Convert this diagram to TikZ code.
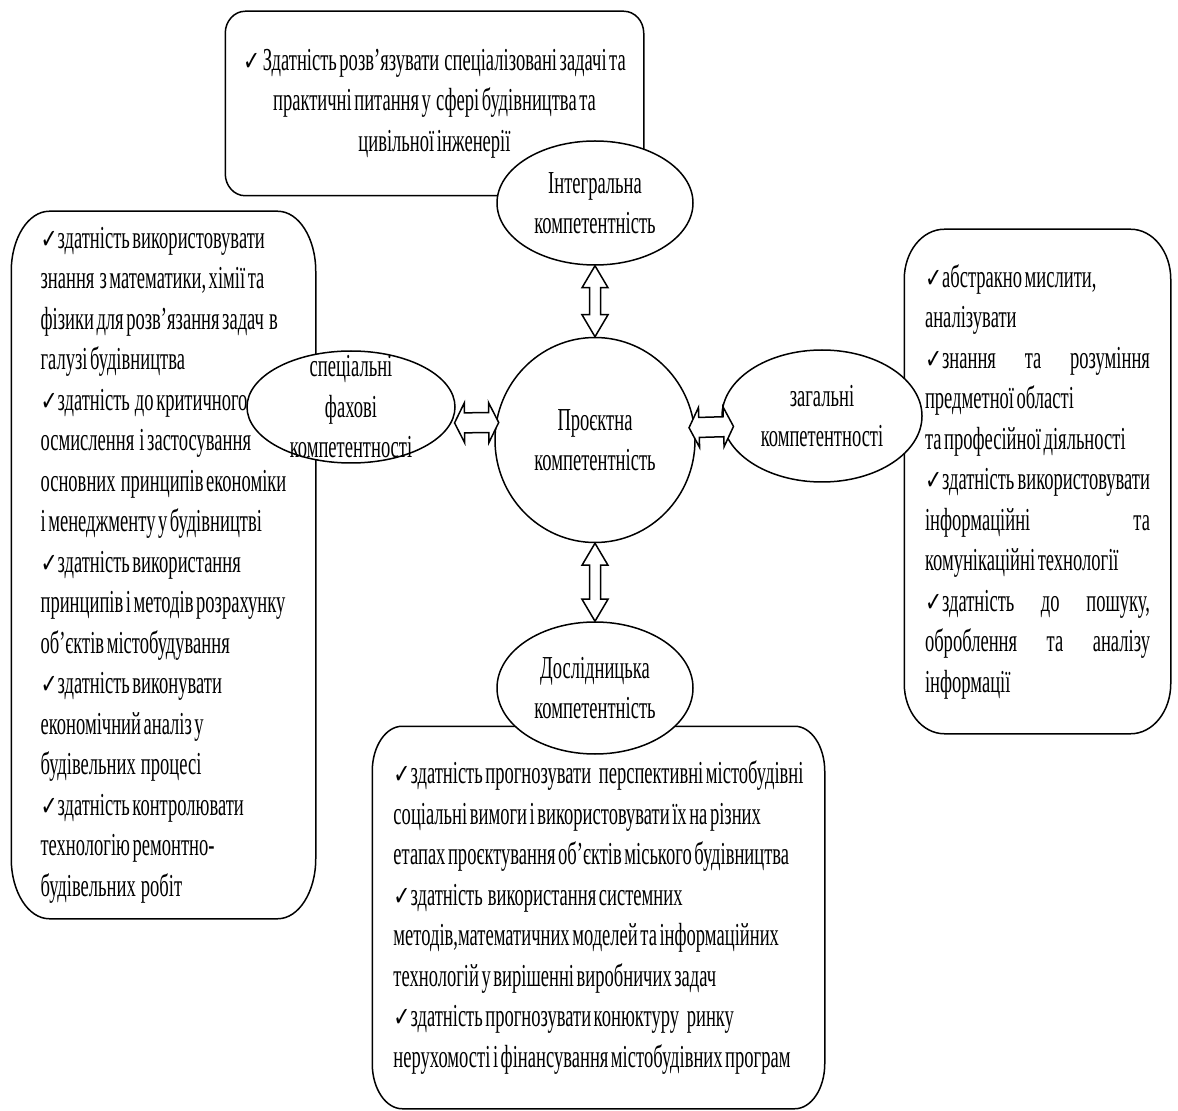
\documentclass[tikz,border=0pt]{standalone}
\usepackage{fontspec}
\setmainfont{Liberation Serif}[FakeStretch=0.58,WordSpace=0.55]
\newfontfamily\checkfont{DejaVu Sans}[Scale=0.85,FakeStretch=0.75]
\usetikzlibrary{shapes.geometric,calc,positioning}

\newcommand\ck{{\checkfont ✓}}
\newcommand\fullline[1]{\makebox[112.5pt][s]{#1}}

% box with elliptic corners round a node
\newcommand\ovalbox[3]{%
    \draw ([xshift=#2]#1.north west) -- ([xshift=-#2]#1.north east)
        arc[start angle=90,end angle=0,x radius=#2,y radius=#3]
        -- ([yshift=#3]#1.south east)
        arc[start angle=0,end angle=-90,x radius=#2,y radius=#3]
        -- ([xshift=#2]#1.south west)
        arc[start angle=270,end angle=180,x radius=#2,y radius=#3]
        -- ([yshift=-#3]#1.north west)
        arc[start angle=180,end angle=90,x radius=#2,y radius=#3] -- cycle;}

% hollow double arrow: from, to, half shaft, half head, head length
\newcommand\dblarrow[5]{%
    \draw[arrowbody] let \p1=(#1), \p2=(#2), \n1={atan2(\y2-\y1,\x2-\x1)} in
        (\p1) -- ($(\p1)+(\n1:#5)+(\n1+90:#4)$) -- ($(\p1)+(\n1:#5)+(\n1+90:#3)$)
        -- ($(\p2)+(\n1:-#5)+(\n1+90:#3)$) -- ($(\p2)+(\n1:-#5)+(\n1+90:#4)$)
        -- (\p2) -- ($(\p2)+(\n1:-#5)+(\n1-90:#4)$) -- ($(\p2)+(\n1:-#5)+(\n1-90:#3)$)
        -- ($(\p1)+(\n1:#5)+(\n1-90:#3)$) -- ($(\p1)+(\n1:#5)+(\n1-90:#4)$) -- cycle;}

\begin{document}
\begin{tikzpicture}[x=0.5pt,y=0.5pt,line width=0.75pt,
    font=\fontsize{16}{20.25}\selectfont,
    oval/.style={ellipse, draw, fill=white, inner sep=0pt},
    lbl/.style={align=center, inner sep=0pt},
    box/.style={inner sep=0pt, align=left},
    arrowbody/.style={draw, fill=white, line join=miter}]

    \useasboundingbox (0,0) rectangle (1178,1110);

    % text boxes
    \node[box, align=center, minimum width=208.5pt, minimum height=91.5pt] (goal) at (434.5,1006.5)
        {\ck\ Здатність розв’язувати\ \ спеціалізовані задачі та\\
         практичні питання у\ \ сфері будівництва та\\
         цивільної інженерії};
    \node[box, minimum width=151.5pt, minimum height=353pt] (spec) at (163.5,545)
        {\ck здатність використовувати\\
         знання\ \ з математики, хімії та\\
         фізики для розв’язання задач\ \ в\\
         галузі будівництва\\
         \ck здатність\ \ до критичного\\
         осмислення\ \ і застосування\\
         основних\ \ принципів економіки\\
         і менеджменту у будівництві\\
         \ck здатність використання\\
         принципів і методів розрахунку\\
         об’єктів містобудування\\
         \ck здатність виконувати\\
         економічний аналіз у\\
         будівельних\ \ процесі\\
         \ck здатність контролювати\\
         технологію ремонтно-\\
         будівельних\ \ робіт};
    \node[box, minimum width=132.5pt, minimum height=251.5pt] (gen) at (1037.5,628.5)
        {\ck абстракно мислити,\\
         аналізувати\\
         \fullline{\ck знання та розуміння}\\
         предметної області\\
         та професійної діяльності\\
         \fullline{\ck здатність використовувати}\\
         \fullline{інформаційні та}\\
         комунікаційні технології\\
         \fullline{\ck здатність до пошуку,}\\
         \fullline{оброблення та аналізу}\\
         інформації};
    \node[box, minimum width=225.5pt, minimum height=190.5pt] (res) at (598.5,192.5)
        {\ck здатність прогнозувати\ \ \ перспективні містобудівні\\
         соціальні вимоги і використовувати їх на різних\\
         етапах проєктування об’єктів міського будівництва\\
         \ck здатність\ \ використання системних\\
         методів,математичних моделей та інформаційних\\
         технологій у вирішенні виробничих задач\\
         \ck здатність прогнозувати конюктуру\ \ \ ринку\\
         нерухомості і фінансування містобудівних програм};

    \ovalbox{goal}{10pt}{11pt}
    \ovalbox{spec}{19pt}{30pt}
    \ovalbox{gen}{20pt}{25pt}
    \ovalbox{res}{15pt}{22.5pt}

    % competences
    \node[oval, minimum width=98pt, minimum height=62pt,
        label={[lbl]center:Інтегральна\\компетентність}] (integ) at (595,907) {};
    \node[oval, minimum width=100pt, minimum height=102.5pt,
        label={[lbl]center:Проєктна\\компетентність}] (proj) at (595,670) {};
    \node[oval, minimum width=104pt, minimum height=56pt,
        label={[lbl]center:спеціальні\\фахові\\компетентності}] (specell) at (351,703) {};
    \node[oval, minimum width=100pt, minimum height=66pt,
        label={[lbl]center:загальні\\компетентності}] (genell) at (822,694) {};
    \node[oval, minimum width=98pt, minimum height=66pt,
        label={[lbl]center:Дослідницька\\компетентність}] (resell) at (595,422) {};

    \dblarrow{integ.south}{proj.north}{2.75pt}{6.5pt}{11pt}
    \dblarrow{proj.south}{resell.north}{2.75pt}{6.5pt}{11pt}
    \dblarrow{$(specell.-9)+(3,0)$}{$(proj.170)+(3,0)$}{5pt}{10pt}{5pt}
    \dblarrow{$(proj.7)+(-6,0)$}{$(genell.186)+(11,0)$}{5pt}{10pt}{5pt}

\end{tikzpicture}
\end{document}
